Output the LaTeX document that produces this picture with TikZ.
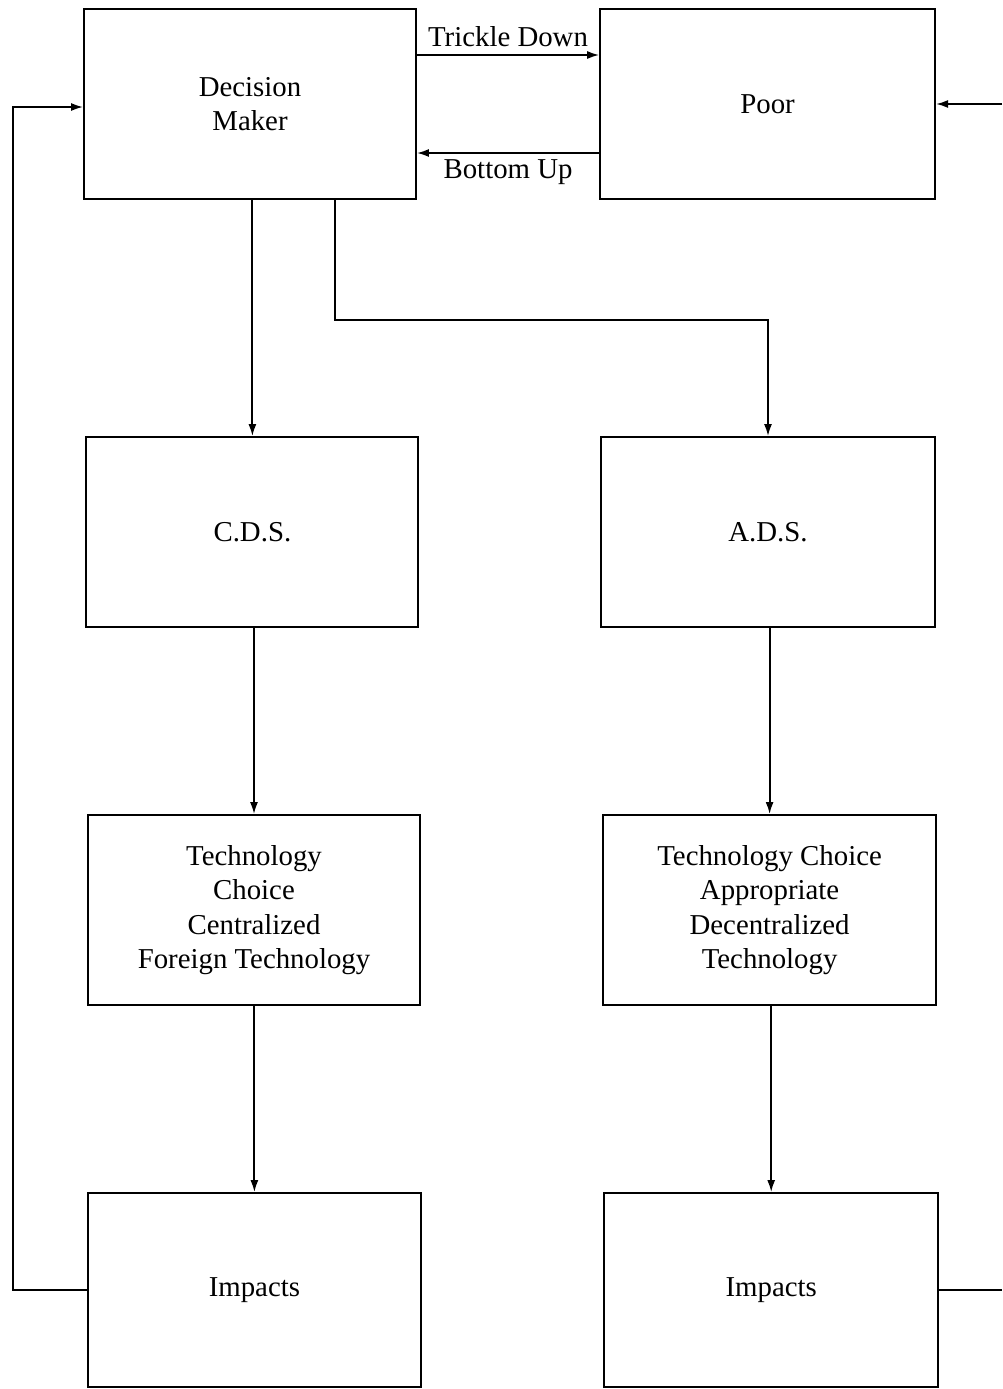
\documentclass[tikz,border=0pt]{standalone}
\usepackage{fontspec}
\setmainfont{Liberation Serif}
\usepackage{tikz}
\usetikzlibrary{arrows.meta}

\tikzset{
  box/.style={draw, line width=1.3pt, minimum width=8.3cm, minimum height=4.75cm, align=center, inner sep=0pt},
  flow/.style={-{Latex[length=3mm,width=2mm]}, line width=1.3pt}
}

\begin{document}
\begin{tikzpicture}[every node/.style={font=\fontsize{20.5}{24.5}\selectfont}]
\useasboundingbox (0,0) rectangle (25.05,-34.725);

\draw (6.25,-2.6)     node (dm)   [box] {Decision\\Maker};
\draw (19.19,-2.6)    node (poor) [box, minimum width=8.375cm] {Poor};
\draw ([yshift=1.225cm]dm.east) edge[flow] node[above=2pt] {Trickle Down} ([yshift=1.225cm]dm.east -| poor.west);
\draw ([yshift=-1.225cm]poor.west) edge[flow] node[below=1pt] {Bottom Up} ([yshift=-1.225cm]poor.west -| dm.east);

\draw (6.31,-13.3)    node (cds)  [box] {C.D.S.};
\draw (19.2,-13.3)    node (ads)  [box, minimum width=8.35cm] {A.D.S.};
\draw[flow] (dm.south -| cds.north) -- (cds.north);
\draw[flow] ([xshift=2.125cm]dm.south) -- ++(0,-3) -| (ads.north);

\draw (6.35,-22.75)   node (tcl)  [box] {Technology\\Choice\\Centralized\\Foreign Technology};
\draw (19.24,-22.75)  node (tcr)  [box, minimum width=8.33cm] {Technology Choice\\Appropriate\\Decentralized\\Technology};
\draw[flow] (cds.south -| tcl.north) -- (tcl.north);
\draw[flow] (ads.south -| tcr.north) -- (tcr.north);

\draw (6.36,-32.25)   node (iml)  [box, minimum width=8.33cm, minimum height=4.85cm] {Impacts};
\draw (19.28,-32.25)  node (imr)  [box, minimum width=8.35cm, minimum height=4.85cm] {Impacts};
\draw[flow] (tcl.south -| iml.north) -- (iml.north);
\draw[flow] (tcr.south -| imr.north) -- (imr.north);

% feedback lines
\draw[flow] (iml.west) -- ++(-1.85,0) |- ([yshift=-0.075cm]dm.west);
\coordinate (inr)  at (25.05,-2.6);
\coordinate (outr) at (25.05,-32.25);
\draw[flow] (inr) -- (poor.east);
\draw[line width=1.3pt] (imr.east) -- (outr);

\end{tikzpicture}
\end{document}
